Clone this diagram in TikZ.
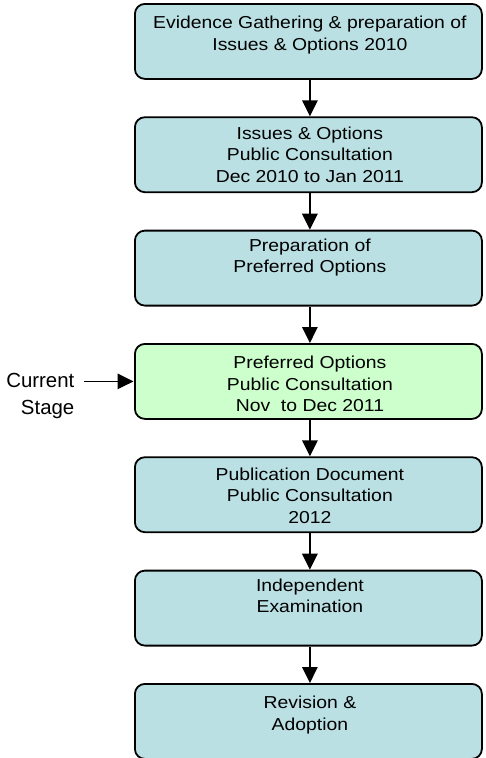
\documentclass[tikz,border=0pt]{standalone}
\usepackage{fontspec}
\setmainfont{Liberation Sans}
\newfontfamily\boxfont[FakeStretch=1.12]{Liberation Sans}
\usetikzlibrary{arrows.meta}
\definecolor{boxblue}{RGB}{186,224,227}
\definecolor{boxgreen}{RGB}{204,255,204}
\begin{document}
\begin{tikzpicture}[x=1pt,y=1pt,
  stagebox/.style={draw=black, line width=1.8pt, rounded corners=10pt, fill=boxblue,
    minimum width=347pt, minimum height=75pt, inner sep=0pt, anchor=north west},
  stagetext/.style={anchor=north, align=center, inner sep=0pt,
    font=\boxfont\fontsize{17.3}{21.5}\selectfont},
  flow/.style={line width=1.5pt, -{Triangle[length=16pt,width=15.5pt]}}]
\useasboundingbox (0,0) rectangle (485,-758);
% boxes
\node[stagebox] (b1) at (134,-3) {};
\node[stagebox] (b2) at (134,-116.3) {};
\node[stagebox] (b3) at (134,-229.7) {};
\node[stagebox, fill=boxgreen] (b4) at (134,-343) {};
\node[stagebox] (b5) at (134,-456.3) {};
\node[stagebox] (b6) at (134,-569.7) {};
\node[stagebox] (b7) at (134,-683) {};
% texts
\node[stagetext] (t1) at ([xshift=1.5pt,yshift=-13pt]b1.north) {Evidence Gathering \& preparation of\\Issues \& Options 2010};
\node[stagetext] (t2) at ([xshift=1.5pt,yshift=-10pt]b2.north) {Issues \& Options\\Public Consultation\\Dec 2010 to Jan 2011};
\node[stagetext] (t3) at ([xshift=1.5pt,yshift=-9pt]b3.north) {Preparation of\\Preferred Options};
\node[stagetext] (t4) at ([xshift=1.5pt,yshift=-13pt]b4.north) {Preferred Options\\Public Consultation\\Nov\ \ to Dec 2011};
\node[stagetext] (t5) at ([xshift=1.5pt,yshift=-11pt]b5.north) {Publication Document\\Public Consultation\\2012};
\node[stagetext] (t6) at ([xshift=1.5pt,yshift=-9pt]b6.north) {Independent\\Examination};
\node[stagetext] (t7) at ([xshift=1.5pt,yshift=-13pt]b7.north) {Revision \&\\Adoption};
% current stage label
\node[anchor=north east, align=right, inner sep=0pt,
  font=\fontsize{20.4}{26.5}\selectfont] (cur) at (74.5,-373.5) {Current\\Stage};
% connectors
\draw[flow] ([xshift=1.5pt]b1.south) -- ([xshift=1.5pt]b2.north);
\draw[flow] ([xshift=1.5pt]b2.south) -- ([xshift=1.5pt]b3.north);
\draw[flow] ([xshift=1.5pt]b3.south) -- ([xshift=1.5pt]b4.north);
\draw[flow] ([xshift=1.5pt]b4.south) -- ([xshift=1.5pt]b5.north);
\draw[flow] ([xshift=1.5pt]b5.south) -- ([xshift=1.5pt]b6.north);
\draw[flow] ([xshift=1.5pt]b6.south) -- ([xshift=1.5pt]b7.north);
\draw[flow] ([xshift=9.5pt]cur.east |- b4.west) -- ([xshift=-0.5pt]b4.west);
\end{tikzpicture}
\end{document}
